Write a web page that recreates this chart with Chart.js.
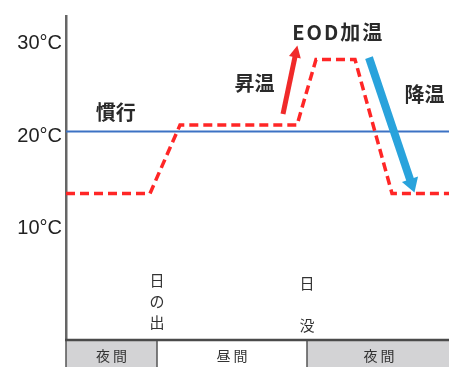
<!DOCTYPE html>
<html>
<head>
<meta charset="utf-8">
<script src="https://cdn.jsdelivr.net/npm/chart.js@4.4.1/dist/chart.umd.min.js"></script>
<style>
  html, body { margin: 0; padding: 0; background: #ffffff; }
  #wrap { width: 449px; height: 367px; }
</style>
</head>
<body>
<div id="wrap"><canvas id="c" width="449" height="367"></canvas></div>
<script>
// Time of day in hours (after midnight of day 1), temperature in °C
const xRange = [-1.28, 29.36];
const yRange = [-2.35, 32.7];
const tempTicks = [10, 20, 30];

// EOD heating schedule (red dashed)
const eodHours = [-1.28, 5.44, 7.84, 17.2, 18.72, 21.84, 24.8, 29.36];
const eodTemps = [13.5, 13.5, 20.9, 20.9, 28.0, 28.0, 13.5, 13.5];

// Conventional constant setting (blue)
const convHours = [-1.28, 29.36];
const convTemps = [20.2, 20.2];

// Arrows: warm-up (red) and cool-down (blue)
const riseHours = [16.08, 17.12];
const riseTemps = [22.1, 28.8];
const fallHours = [22.96, 26.4];
const fallTemps = [28.2, 14.4];

// Day / night periods
const sunrise = 6;
const sunset = 18;
const periodNames = ['夜間', '昼間', '夜間'];

// Text annotations [text, hour, temp]
const notes = [
  ['慣行', 2.7, 22.3],
  ['昇温', 13.8, 25.4],
  ['EOD加温', 20.5, 30.9],
  ['降温', 27.4, 24.2]
];

const toPts = (xs, ys) => xs.map((x, i) => ({ x, y: ys[i] }));

const overlay = {
  id: 'overlay',
  afterDatasetsDraw(chart) {
    const ctx = chart.ctx;
    const xs = chart.scales.x, ys = chart.scales.y;

    // arrowheads at the end of each arrow dataset
    const head = (dsIndex, len, half, color) => {
      const meta = chart.getDatasetMeta(dsIndex);
      const p0 = meta.data[0], p1 = meta.data[1];
      const ang = Math.atan2(p1.y - p0.y, p1.x - p0.x);
      ctx.save();
      ctx.fillStyle = color;
      ctx.translate(p1.x, p1.y);
      ctx.rotate(ang);
      ctx.beginPath();
      ctx.moveTo(len * 0.55, 0);
      ctx.lineTo(-len * 0.45, -half);
      ctx.lineTo(-len * 0.45, half);
      ctx.closePath();
      ctx.fill();
      ctx.restore();
    };
    head(2, 12, 6, '#f02a2a');
    head(3, 14, 8.5, '#29a3dc');

    // annotation text
    ctx.save();
    ctx.fillStyle = '#2a2a2a';
    ctx.textAlign = 'center';
    ctx.textBaseline = 'middle';
    ctx.font = 'bold 20px "Noto Sans CJK JP"';
    notes.forEach(([t, h, v]) => {
      ctx.letterSpacing = t === 'EOD加温' ? '2px' : '0px';
      ctx.fillText(t, xs.getPixelForValue(h), ys.getPixelForValue(v));
    });
    ctx.letterSpacing = '0px';

    // sunrise / sunset vertical labels
    ctx.font = '15px "Noto Sans CJK JP"';
    ctx.fillStyle = '#333';
    const srx = xs.getPixelForValue(sunrise);
    ['日', 'の', '出'].forEach((ch, i) => ctx.fillText(ch, srx, 280 + i * 21));
    const ssx = xs.getPixelForValue(sunset);
    ctx.fillText('日', ssx, 283);
    ctx.fillText('没', ssx, 325);
    ctx.restore();
  },
  afterDraw(chart) {
    const ctx = chart.ctx;
    const xs = chart.scales.x;
    const area = chart.chartArea;
    const top = area.bottom, bot = chart.height + 2;
    const bounds = [area.left, xs.getPixelForValue(sunrise), xs.getPixelForValue(sunset), area.right + 2];
    ctx.save();
    periodNames.forEach((name, i) => {
      const x0 = bounds[i], x1 = bounds[i + 1];
      ctx.fillStyle = name === '夜間' ? '#d3d3d5' : '#ffffff';
      ctx.fillRect(x0, top, x1 - x0, bot - top);
      ctx.fillStyle = '#333';
      ctx.font = '14px "Noto Sans CJK JP"';
      ctx.textAlign = 'center';
      ctx.textBaseline = 'middle';
      ctx.letterSpacing = '3px';
      ctx.fillText(name, (x0 + x1) / 2 + 1.5, 356);
    });
    ctx.letterSpacing = '0px';
    ctx.strokeStyle = '#555';
    ctx.lineWidth = 1.5;
    [bounds[1], bounds[2]].forEach(x => {
      ctx.beginPath(); ctx.moveTo(x, top); ctx.lineTo(x, bot); ctx.stroke();
    });
    ctx.beginPath(); ctx.moveTo(area.left, top); ctx.lineTo(area.left, bot); ctx.stroke();
    ctx.lineWidth = 2.5;
    ctx.strokeStyle = '#4a4a4a';
    ctx.beginPath(); ctx.moveTo(area.left - 1, top); ctx.lineTo(chart.width, top); ctx.stroke();
    ctx.restore();
  }
};

new Chart(document.getElementById('c'), {
  type: 'line',
  data: {
    datasets: [
      {
        data: toPts(convHours, convTemps),
        borderColor: '#3c72c4',
        borderWidth: 2,
        pointRadius: 0,
        order: 2
      },
      {
        data: toPts(eodHours, eodTemps),
        borderColor: '#ff2626',
        borderWidth: 3.5,
        borderDash: [9, 5],
        pointRadius: 0,
        order: 1
      },
      {
        data: toPts(riseHours, riseTemps),
        borderColor: '#f02a2a',
        borderWidth: 5,
        pointRadius: 0,
        order: 0
      },
      {
        data: toPts(fallHours, fallTemps),
        borderColor: '#29a3dc',
        borderWidth: 8,
        pointRadius: 0,
        order: 0
      }
    ]
  },
  options: {
    responsive: false,
    animation: false,
    events: [],
    layout: { padding: { top: 12, bottom: 27, left: 0, right: 0 } },
    plugins: { legend: { display: false }, tooltip: { enabled: false } },
    scales: {
      x: {
        type: 'linear',
        min: xRange[0],
        max: xRange[1],
        display: false
      },
      y: {
        type: 'linear',
        min: yRange[0],
        max: yRange[1],
        afterBuildTicks: s => { s.ticks = tempTicks.map(v => ({ value: v })); },
        afterFit: s => { s.width = 66; },
        grid: { display: false, drawTicks: false },
        border: { display: true, color: '#666', width: 2.5 },
        ticks: {
          padding: 4,
          labelOffset: 3,
          color: '#222',
          font: { family: '"Liberation Sans", Arial', size: 20 },
          callback: v => v + '°C'
        }
      }
    }
  },
  plugins: [overlay]
});
</script>
</body>
</html>
